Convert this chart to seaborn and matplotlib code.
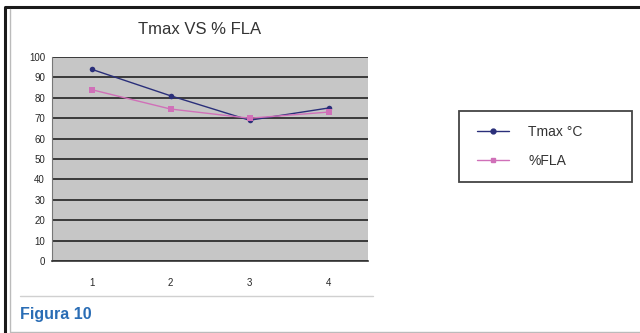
import matplotlib.pyplot as plt
import pandas as pd
import seaborn as sns
from matplotlib.lines import Line2D
from matplotlib.patches import Rectangle

# data
categorias = [1, 2, 3, 4]
tmax = [94, 81, 69, 75]
fla = [84, 74.5, 70, 73]
y_ticks = list(range(0, 101, 10))

df = pd.DataFrame({
    'x': categorias * 2,
    'valor': tmax + fla,
    'serie': ['Tmax °C'] * 4 + ['%FLA'] * 4,
})

sns.set_style('white')
plt.rcParams['font.family'] = ['Liberation Sans', 'DejaVu Sans']

W, H = 640, 333
fig = plt.figure(figsize=(6.4, 3.33), dpi=100)
ax = fig.add_axes([52 / W, 1 - 261 / H, 316 / W, 204 / H])
ax.set_facecolor('#c6c6c6')

cores = {'Tmax °C': '#2a2f7a', '%FLA': '#d070b8'}
sns.lineplot(data=df, x='x', y='valor', hue='serie', style='serie',
             palette=cores, markers={'Tmax °C': 'o', '%FLA': 's'},
             dashes=False, markersize=4, linewidth=1.0,
             markeredgewidth=0, legend=False, ax=ax)

ax.set_xlim(0.5, 4.5)
ax.set_ylim(0, 100)
ax.set_yticks(y_ticks)
ax.set_xticks(categorias)
ax.set_xticks([0.5, 1.5, 2.5, 3.5, 4.5], minor=True)
ax.tick_params(axis='x', which='major', length=0, labelsize=7, pad=12)
ax.tick_params(axis='x', which='minor', length=3, color='#333333', direction='out')
ax.tick_params(axis='y', length=3, labelsize=7, color='#555555', direction='out', pad=2)
ax.set_xlabel('')
ax.set_ylabel('')
ax.yaxis.grid(True, color='#222222', linewidth=1.2)
ax.set_axisbelow(True)
for lado in ['top', 'right']:
    ax.spines[lado].set_visible(False)
ax.spines['left'].set_color('#777777')
ax.spines['bottom'].set_color('#333333')
ax.spines['bottom'].set_linewidth(1.2)

fig.text(200 / W, 1 - 30 / H, 'Tmax VS % FLA', ha='center', va='center',
         fontsize=12, color='#333333')

# legend: box drawn separately, entries via fig.legend
fig.add_artist(Rectangle((459 / W, 1 - 182 / H), 173 / W, 71 / H,
                         transform=fig.transFigure, fill=False,
                         edgecolor='#444444', linewidth=1.3))
handles = [Line2D([], [], color=cores[s], marker=m, markersize=3.5, linewidth=1.0)
           for s, m in [('Tmax °C', 'o'), ('%FLA', 's')]]
leg = fig.legend(handles, ['Tmax °C', '%FLA'], loc='upper left',
                 bbox_to_anchor=(470 / W, 1 - 118 / H), frameon=False,
                 fontsize=10, handlelength=2.3, borderpad=0,
                 labelspacing=1.1, handletextpad=1.4)
for t in leg.get_texts():
    t.set_color('#333333')

# separator line and caption
fig.add_artist(Line2D([20 / W, 373 / W], [1 - 296 / H] * 2, color='#d0d0d0', linewidth=1))
fig.text(20 / W, 1 - 314 / H, 'Figura 10', ha='left', va='center', fontsize=11.5,
         fontweight='bold', color='#2a6db5')

# outer frame
fig.add_artist(Line2D([1.0, 5 / W, 5 / W], [1 - 7 / H, 1 - 7 / H, 0.0],
                      color='#1a1a1a', linewidth=2.2))
fig.add_artist(Line2D([9.5 / W, 9.5 / W, 1.0], [1 - 9 / H, 1 - 331.5 / H, 1 - 331.5 / H],
                      color='#bbbbbb', linewidth=1))

fig.savefig('out.png', dpi=100)
